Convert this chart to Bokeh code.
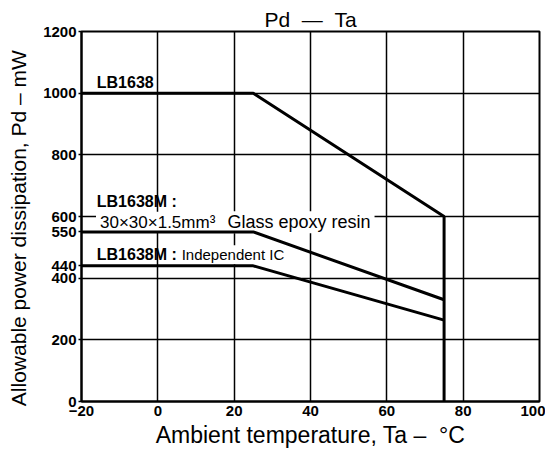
from bokeh.plotting import figure
from bokeh.models import Range1d, FixedTicker, Label
from bokeh.embed import file_html
from bokeh.resources import INLINE

# Data
ta_lb1638 = [-20, 25, 75, 75]
pd_lb1638 = [1000, 1000, 600, 0]
ta_glass = [-20, 25, 75, 75]
pd_glass = [550, 550, 330, 330]
ta_ic = [-20, 25, 75]
pd_ic = [440, 440, 264]
x_ticks = [-20, 0, 20, 40, 60, 80, 100]
y_ticks = [0, 200, 400, 440, 550, 600, 800, 1000, 1200]
x_grid = [0, 20, 40, 60, 80]
y_grid = [200, 400, 600, 800, 1000]

FONT = "Liberation Sans"
NB = "\u00a0"

p = figure(width=545, height=450, output_backend="svg", toolbar_location=None,
           x_range=Range1d(-20, 100), y_range=Range1d(0, 1200),
           min_border_left=81, min_border_right=6, min_border_top=31,
           min_border_bottom=45, title="Pd" + NB * 2 + "\u2014" + NB * 2 + "Ta")

p.title.align = "center"
p.title.text_font = FONT
p.title.text_font_size = "21px"
p.title.text_font_style = "normal"
p.title.text_color = "black"
p.title.standoff = 2
p.title.offset = 0

p.outline_line_color = "black"
p.outline_line_width = 2
p.outline_line_alpha = 1

for ax in (p.xaxis[0], p.yaxis[0]):
    ax.axis_line_color = "black"
    ax.axis_line_width = 2
    ax.major_tick_line_color = "black"
    ax.major_tick_line_width = 1.5
    ax.minor_tick_line_color = None
    ax.major_tick_in = 0
    ax.major_label_text_font = FONT
    ax.major_label_text_font_style = "bold"
    ax.major_label_text_font_size = "15px"
    ax.major_label_text_color = "black"
    ax.axis_label_text_font = FONT
    ax.axis_label_text_font_style = "normal"
    ax.axis_label_text_color = "black"

p.xaxis.axis_label_text_font_size = "23px"
p.yaxis.axis_label_text_font_size = "21px"
p.xaxis.ticker = FixedTicker(ticks=x_ticks)
p.yaxis.ticker = FixedTicker(ticks=y_ticks)
p.xaxis.major_tick_out = 0
p.yaxis.major_tick_out = 3
p.xaxis.major_label_standoff = 4
p.yaxis.major_label_standoff = 2
p.xaxis.axis_label_standoff = 3
p.yaxis.axis_label_standoff = 10
p.xaxis.major_label_overrides = {-20: "\u221220"}
p.xaxis.axis_label = "Ambient temperature, Ta \u2013" + NB * 2 + "\u00b0C"
p.yaxis.axis_label = "Allowable power dissipation, Pd \u2013 mW" + NB * 4

p.xgrid.ticker = FixedTicker(ticks=x_grid)
p.ygrid.ticker = FixedTicker(ticks=y_grid)
for g in (p.xgrid[0], p.ygrid[0]):
    g.grid_line_color = "black"
    g.grid_line_width = 1.5
    g.grid_line_alpha = 1


def lab(x, y, text, size, bold=False, bg=False):
    l = Label(x=x, y=y, text=text, text_font=FONT, text_font_size=size,
              text_font_style="bold" if bold else "normal", text_color="black",
              text_baseline="middle", text_align="left")
    if bg:
        l.background_fill_color = "white"
        l.background_fill_alpha = 1
        l.padding = (4, 1)
        l.level = "underlay"
    p.add_layout(l)


lab(-16, 1035, "LB1638", "16px", bold=True)
lab(-16, 650, "LB1638M :", "16px", bold=True)
lab(-16.2, 581, "30\u00d730\u00d71.5mm\u00b3" + NB * 3, "17px", bg=True)
lab(17.2, 581, "Glass epoxy resin", "18px", bg=True)
lab(-16, 476, "LB1638M :", "16px", bold=True)
lab(5.2, 476, "Independent IC", "15px", bg=True)

p.line(ta_lb1638, pd_lb1638, line_color="black", line_width=3)
p.line(ta_glass, pd_glass, line_color="black", line_width=3)
p.line(ta_ic, pd_ic, line_color="black", line_width=3)

open("out.html", "w").write(file_html(p, INLINE))
